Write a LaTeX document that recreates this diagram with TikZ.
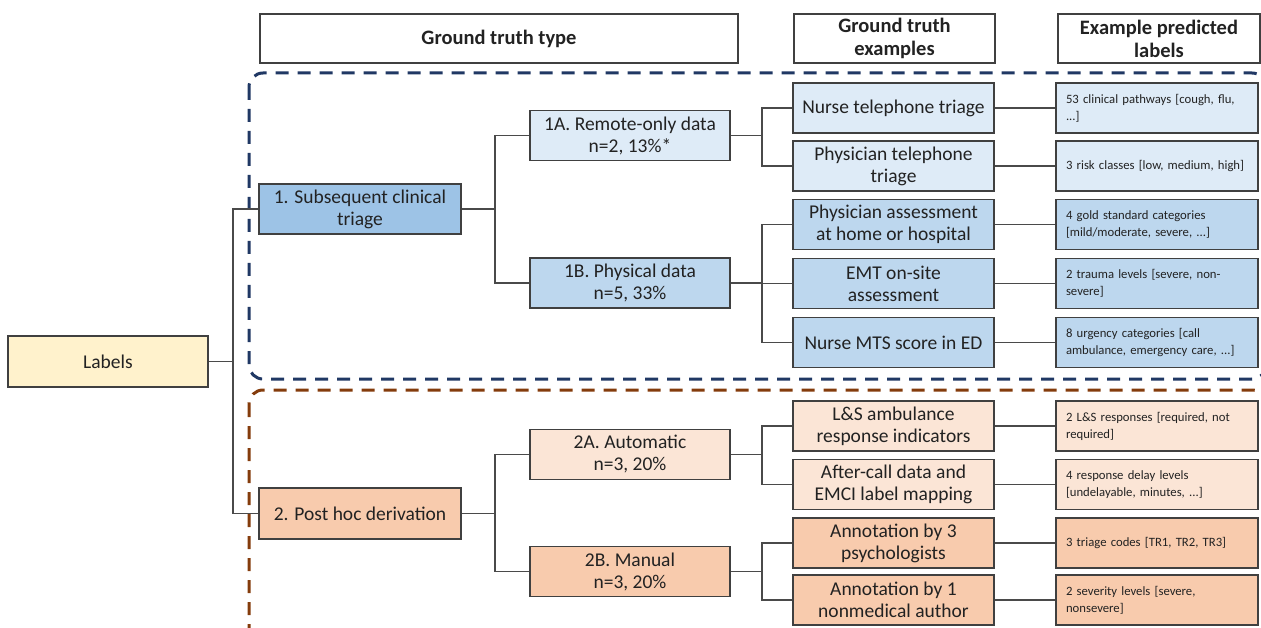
\documentclass[tikz,border=0pt]{standalone}
\usepackage{fontspec}
\setmainfont{Carlito}
\definecolor{edge}{HTML}{404040}
\definecolor{wire}{HTML}{4A4A4A}
\definecolor{ink}{HTML}{222222}
\definecolor{cream}{HTML}{FFF2CC}
\definecolor{blueA}{HTML}{9DC3E6}
\definecolor{blueB}{HTML}{BDD7EE}
\definecolor{blueC}{HTML}{DEEBF7}
\definecolor{peachB}{HTML}{F8CBAD}
\definecolor{peachC}{HTML}{FBE5D6}
\definecolor{navy}{HTML}{203864}
\definecolor{rust}{HTML}{843C0C}
\tikzset{
  box/.style={draw=edge, line width=1.2pt, align=center, inner sep=2pt,
    minimum height=50pt, text=ink, font=\fontsize{19.5}{22}\selectfont},
  head/.style={box, fill=white, font=\fontsize{20.5}{23}\selectfont\bfseries, minimum height=49pt},
  pred/.style={draw=edge, line width=1.2pt, align=left, inner xsep=10pt, inner ysep=2pt,
    text width=182pt, minimum height=50pt, text=ink, font=\fontsize{12.7}{17}\selectfont},
  wirestyle/.style={draw=wire, line width=1.3pt},
  group/.style={line width=3pt, dash pattern=on 13pt off 9pt, rounded corners=14pt}
}
\begin{document}
\begin{tikzpicture}[x=1pt, y=-1pt]
\useasboundingbox (0,0) rectangle (1261,628);

% group frames
\draw[group, draw=navy] (249,73) rectangle (1266,379);
\draw[group, draw=rust] (249,390) rectangle (1266,640);

% column headers
\node[head, minimum width=478pt] (hType) at (499,38.5) {Ground truth type};
\node[head, minimum width=201pt] (hEx) at (894.5,38.5) {Ground truth\\examples};
\node[head, minimum width=202pt] (hPred) at (1159,38.5) {Example predicted\\labels};

% root and categories
\node[box, fill=cream, minimum width=200pt, minimum height=51pt] (root) at (108,361.5) {Labels};
\node[box, fill=blueA, minimum width=202pt] (c1) at (360,209) {1. Subsequent clinical\\triage};
\node[box, fill=peachB, minimum width=202pt, minimum height=51pt] (c2) at (360,513.5) {2. Post hoc derivation};

% subcategories
\node[box, fill=blueC, minimum width=200pt] (s1A) at (630,135.5) {1A. Remote-only data\\n=2, 13\%*};
\node[box, fill=blueB, minimum width=200pt] (s1B) at (630,283) {1B. Physical data\\n=5, 33\%};
\node[box, fill=peachC, minimum width=200pt] (s2A) at (630,454.5) {2A. Automatic\\n=3, 20\%};
\node[box, fill=peachB, minimum width=200pt] (s2B) at (630,571.5) {2B. Manual\\n=3, 20\%};

% ground truth examples
\node[box, fill=blueC, minimum width=201pt] (e1) at (893.5,108) {Nurse telephone triage};
\node[box, fill=blueC, minimum width=201pt] (e2) at (893.5,166) {Physician telephone\\triage};
\node[box, fill=blueB, minimum width=201pt] (e3) at (893.5,224.5) {Physician assessment\\at home or hospital};
\node[box, fill=blueB, minimum width=201pt] (e4) at (893.5,283.5) {EMT on-site\\assessment};
\node[box, fill=blueB, minimum width=201pt] (e5) at (893.5,342.5) {Nurse MTS score in ED};
\node[box, fill=peachC, minimum width=201pt] (e6) at (893.5,426) {L\&S ambulance\\response indicators};
\node[box, fill=peachC, minimum width=201pt] (e7) at (893.5,484.5) {After-call data and\\EMCI label mapping};
\node[box, fill=peachB, minimum width=201pt] (e8) at (893.5,543) {Annotation by 3\\psychologists};
\node[box, fill=peachB, minimum width=201pt] (e9) at (893.5,600) {Annotation by 1\\nonmedical author};

% example predicted labels
\node[pred, fill=blueC] (p1) at (1157,108) {53 clinical pathways [cough, flu,\\...]};
\node[pred, fill=blueC] (p2) at (1157,166) {3 risk classes [low, medium, high]};
\node[pred, fill=blueB] (p3) at (1157,224.5) {4 gold standard categories\\{[mild/moderate, severe, ...]}};
\node[pred, fill=blueB] (p4) at (1157,283.5) {2 trauma levels [severe, non-\\severe]};
\node[pred, fill=blueB] (p5) at (1157,342.5) {8 urgency categories [call\\ambulance, emergency care, ...]};
\node[pred, fill=peachC] (p6) at (1157,426) {2 L\&S responses [required, not\\required]};
\node[pred, fill=peachC] (p7) at (1157,484.5) {4 response delay levels\\{[undelayable, minutes, ...]}};
\node[pred, fill=peachB] (p8) at (1157,543) {3 triage codes [TR1, TR2, TR3]};
\node[pred, fill=peachB] (p9) at (1157,600) {2 severity levels [severe,\\nonsevere]};

% junction columns
\coordinate (j0) at (233,0);
\coordinate (j1) at (495,0);
\coordinate (j2) at (762,0);

% tree connectors
\draw[wirestyle] (root.east) -- (root.east -| j0);
\draw[wirestyle] (c1.west) -| (j0 |- c2.west) -- (c2.west);

\draw[wirestyle] (c1.east) -- (c1.east -| j1);
\draw[wirestyle] (s1A.west) -| (j1 |- s1B.west) -- (s1B.west);
\draw[wirestyle] (c2.east) -- (c2.east -| j1);
\draw[wirestyle] (s2A.west) -| (j1 |- s2B.west) -- (s2B.west);

\draw[wirestyle] (s1A.east) -- (s1A.east -| j2);
\draw[wirestyle] (e1.west) -| (j2 |- e2.west) -- (e2.west);
\draw[wirestyle] (s1B.east) -- (s1B.east -| j2);
\draw[wirestyle] (e3.west) -| (j2 |- e5.west) -- (e5.west);
\draw[wirestyle] (j2 |- e4.west) -- (e4.west);
\draw[wirestyle] (s2A.east) -- (s2A.east -| j2);
\draw[wirestyle] (e6.west) -| (j2 |- e7.west) -- (e7.west);
\draw[wirestyle] (s2B.east) -- (s2B.east -| j2);
\draw[wirestyle] (e8.west) -| (j2 |- e9.west) -- (e9.west);

% examples to predicted labels
\foreach \i in {1,...,9} {
  \draw[wirestyle] (e\i.east) -- (e\i.east -| p\i.west);
}
\end{tikzpicture}
\end{document}
